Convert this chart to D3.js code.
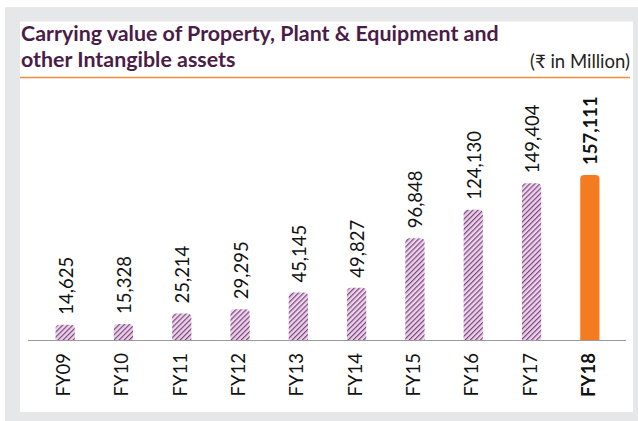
<!DOCTYPE html>
<html>
<head>
<meta charset="utf-8">
<script src="https://cdn.jsdelivr.net/npm/d3@7"></script>
<style>
  html, body { margin: 0; padding: 0; background: #ffffff; }
  svg { display: block; }
</style>
</head>
<body>
<svg id="chart" width="638" height="421"></svg>
<script>
const categories = ["FY09","FY10","FY11","FY12","FY13","FY14","FY15","FY16","FY17","FY18"];
const values = [14625, 15328, 25214, 29295, 45145, 49827, 96848, 124130, 149404, 157111];
const highlight = ["FY18"];
const titleLines = ["Carrying value of Property, Plant & Equipment and", "other Intangible assets"];
const unitLabel = "(\u20B9 in Million)";

const svg = d3.select("#chart");
const W = 638, H = 421;

// frame
svg.append("rect").attr("x", 5).attr("y", 7).attr("width", W - 5).attr("height", H - 7).attr("fill", "#e6e7e8");
svg.append("rect").attr("x", 20).attr("y", 21.5).attr("width", 613).attr("height", 390.5).attr("fill", "#ffffff");

// pattern
const defs = svg.append("defs");
const pat = defs.append("pattern")
  .attr("id", "hatch").attr("patternUnits", "userSpaceOnUse")
  .attr("width", 3.6).attr("height", 3.6)
  .attr("patternTransform", "rotate(45)");
pat.append("rect").attr("width", 3.6).attr("height", 3.6).attr("fill", "#ead5e9");
pat.append("rect").attr("x", 0).attr("width", 1.2).attr("height", 3.6).attr("fill", "#7e4380");

// title
const title = svg.append("text").attr("font-family", "Lato, sans-serif").attr("font-weight", 700)
  .attr("font-size", 21.4).attr("fill", "#4b1c47");
titleLines.forEach((t, i) => {
  title.append("tspan").attr("x", 21).attr("y", 41 + i * 26).text(t);
});
svg.append("text").attr("x", 630).attr("y", 68).attr("text-anchor", "end")
  .attr("font-family", "Lato, sans-serif").attr("font-size", 18.5).attr("fill", "#231f20")
  .text(unitLabel);
svg.append("line").attr("x1", 20).attr("x2", 630).attr("y1", 77.5).attr("y2", 77.5)
  .attr("stroke", "#f08a3c").attr("stroke-width", 1.5);

// scales
const x = d3.scaleBand().domain(categories).range([36, 619]).paddingInner(0.67).paddingOuter(0.335);
const y = d3.scaleLinear().domain([0, 160000]).range([340, 172]);

const r = 4;
function barPath(d, i) {
  const x0 = x(categories[i]), w = x.bandwidth();
  const y0 = y(0), y1 = y(d);
  return `M${x0},${y0} V${y1 + r} Q${x0},${y1} ${x0 + r},${y1} H${x0 + w - r} Q${x0 + w},${y1} ${x0 + w},${y1 + r} V${y0} Z`;
}

svg.append("g").selectAll("path").data(values).join("path")
  .attr("d", barPath)
  .attr("fill", (d, i) => highlight.includes(categories[i]) ? "#f47b20" : "url(#hatch)");

// axis line
svg.append("line").attr("x1", 28).attr("x2", 626).attr("y1", y(0) + 0.5).attr("y2", y(0) + 0.5)
  .attr("stroke", "#9a9a9a").attr("stroke-width", 1);

const fmt = d3.format(",");
// value labels
svg.append("g").selectAll("text").data(values).join("text")
  .attr("transform", (d, i) => `translate(${x(categories[i]) + x.bandwidth() / 2 + 1},${y(d) - 10}) rotate(-90)`)
  .attr("dy", "0.35em")
  .attr("text-anchor", "start")
  .attr("font-family", "Lato, sans-serif").attr("font-size", 18.5)
  .attr("font-weight", (d, i) => highlight.includes(categories[i]) ? 700 : 400)
  .attr("fill", "#111")
  .text(d => fmt(d));

// category labels
svg.append("g").selectAll("text").data(categories).join("text")
  .attr("transform", c => `translate(${x(c) + x.bandwidth() / 2 - 1.5},${353}) rotate(-90)`)
  .attr("dy", "0.35em")
  .attr("text-anchor", "end")
  .attr("font-family", "Lato, sans-serif").attr("font-size", 18.5)
  .attr("font-weight", c => highlight.includes(c) ? 700 : 400)
  .attr("fill", "#111")
  .text(c => c);
</script>
</body>
</html>
